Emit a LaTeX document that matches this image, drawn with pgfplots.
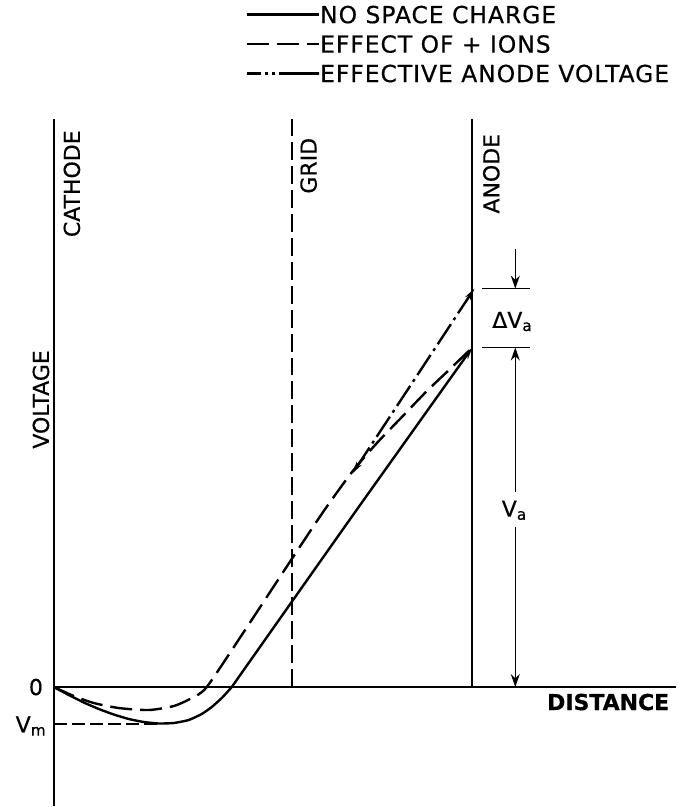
\documentclass[border=0pt]{standalone}
\usepackage{fontspec}
\setmainfont{DejaVu Sans}[FakeBold=0.5]
\usepackage{pgfplots}
\pgfplotsset{compat=1.18}
\usetikzlibrary{arrows.meta}

% coordinates: x = distance from cathode, y = voltage (0 at the axis)
\newcommand{\lbl}{\fontsize{22}{22}\selectfont}

\begin{document}
\begin{tikzpicture}
\begin{axis}[
    x=1pt, y=1pt,
    xmin=-54, xmax=629, ymin=-119, ymax=688,
    axis lines=none, clip=false,
    legend cell align=left,
    legend image code/.code={
        \draw[#1] (0pt,0pt) -- (64pt,0pt);
        \path (0pt,0pt) -- (72pt,0pt);
    },
    legend style={
        at={(axis cs:192,682)}, anchor=north west,
        draw=none, fill=none, inner sep=0pt, row sep=12.5pt,
        font=\fontsize{23.5}{23.5}\selectfont\addfontfeatures{LetterSpace=4},
        nodes={inner sep=0pt, text height=17pt, text depth=0pt},
    },
    curve/.style={black, line width=2.4pt},
    nsc/.style={curve},
    ions/.style={curve, dash pattern=on 22pt off 8pt},
    eff/.style={curve, dash pattern=on 24pt off 5pt on 3pt off 5pt},
    tip/.style={-{Stealth[length=12pt,width=6pt]}},
    thin line/.style={black, line width=1.3pt, forget plot},
    dim tip/.style={-{Stealth[length=13pt,width=9pt]}},
]

\addlegendimage{nsc}
\addlegendentry{NO SPACE CHARGE}
\addlegendimage{ions}
\addlegendentry{EFFECT OF + IONS}
\addlegendimage{eff, dash pattern=on 14pt off 4pt on 3pt off 4pt on 3pt off 4pt on 40pt off 0pt}
\addlegendentry{EFFECTIVE ANODE VOLTAGE}

% electrode lines and distance axis
\addplot[black, line width=2.2pt, forget plot] coordinates {(0,-119) (0,569)};
\addplot[black, line width=2.2pt, forget plot] coordinates {(419,0) (419,569)};
\addplot[black, line width=2pt, dash pattern=on 18pt off 6pt, forget plot] coordinates {(238,0) (238,569)};
\addplot[black, line width=2.2pt, forget plot] coordinates {(0,0) (623,0)};
\addplot[black, line width=1.6pt, dash pattern=on 13pt off 5pt, forget plot] coordinates {(0,-37) (103,-37)};

% no space charge
\addplot[nsc, smooth, tension=0.3, tip, forget plot] coordinates {
    (0,0) (15,-8) (30,-15.5) (45,-22) (60,-27.5) (75,-32) (90,-35)
    (105,-36.5) (120,-36) (135,-33) (148,-27) (158,-20) (168,-11)
    (178,0) (190,17) (300,173) (419,340)};

% effect of + ions
\addplot[ions, smooth, tension=0.4, forget plot] coordinates {
    (0,0) (20,-9) (40,-16) (65,-21) (95,-23) (120,-19) (138,-11) (153,0)
    (190,55) (238,128) (270,176) (299,216) (324,245) (349,271)
    (373,296) (394,316) (419,340)};

% effective anode voltage
\addplot[eff, {Stealth[length=12pt,width=6pt]}-{Stealth[length=12pt,width=6pt]}, forget plot]
    coordinates {(299,214) (421,399)};

% dimension marks at the anode
\addplot[thin line] coordinates {(429,399) (477,399)};
\addplot[thin line] coordinates {(429,340) (477,340)};
\addplot[thin line, dim tip] coordinates {(462,439) (462,399)};
\addplot[thin line, dim tip] coordinates {(462,195) (462,340)};
\addplot[thin line, dim tip] coordinates {(462,160) (462,0)};

\node[font=\lbl] at (axis cs:459,366) {ΔV\textsubscript{a}};
\node[font=\lbl] at (axis cs:461,177) {V\textsubscript{a}};
\node[font=\lbl] at (axis cs:-18,0) {0};
\node[font=\lbl] at (axis cs:-23,-39) {V\textsubscript{m}};
\node[font=\lbl\bfseries] at (axis cs:555,-15) {DISTANCE};
\node[font=\lbl, rotate=90] at (axis cs:18,504) {CATHODE};
\node[font=\lbl, rotate=90] at (axis cs:255,522) {GRID};
\node[font=\lbl, rotate=90] at (axis cs:438,514) {ANODE};
\node[font=\lbl, rotate=90] at (axis cs:-13,288) {VOLTAGE};

\path (axis cs:-54,-119) rectangle (axis cs:629,688);
\end{axis}
\end{tikzpicture}
\end{document}
